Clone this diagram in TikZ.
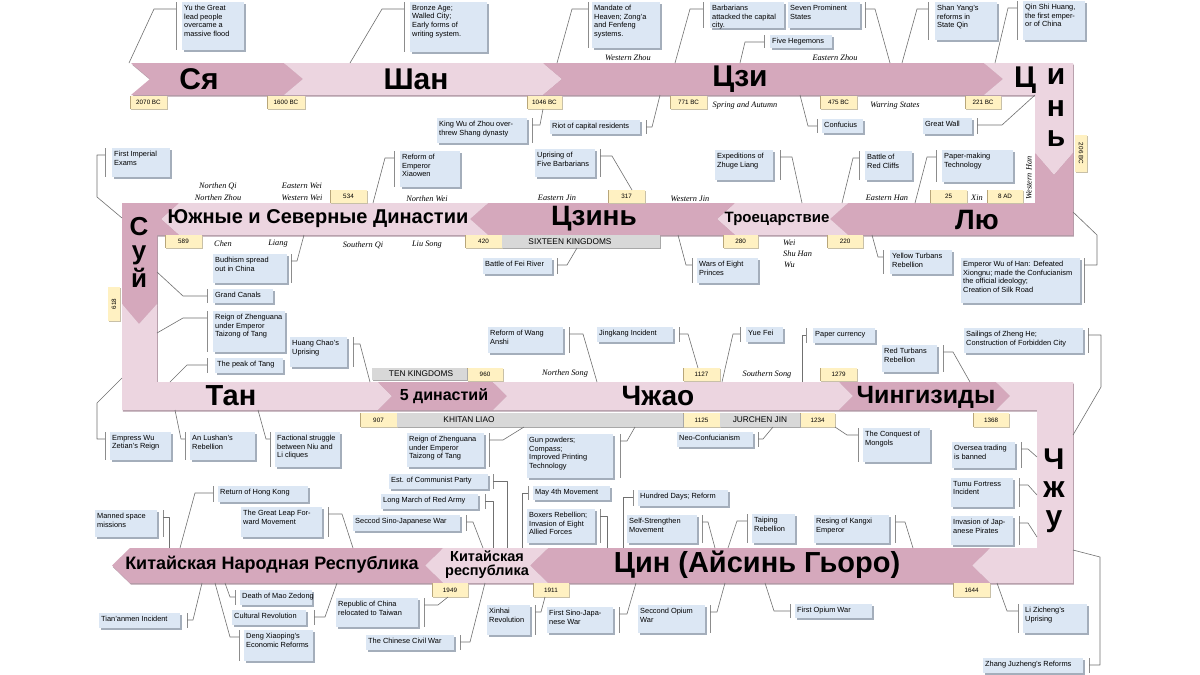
\documentclass[tikz,border=0pt]{standalone}
\usepackage{fontspec}
\setmainfont{Liberation Sans}
\newfontfamily\erafont{Liberation Serif}
\definecolor{banddark}{HTML}{D5A8BC}
\definecolor{bandlight}{HTML}{ECD5E0}
\definecolor{bandshade}{HTML}{B29AA6}
\definecolor{evfill}{HTML}{DCE7F4}
\definecolor{evshade}{HTML}{A4AEBB}
\definecolor{tagfill}{HTML}{FFF1C2}
\definecolor{tagshade}{HTML}{C8C0A8}
\definecolor{tagedge}{HTML}{B8A67A}
\definecolor{barfill}{HTML}{D8D8D8}
\definecolor{barshade}{HTML}{A8A8A8}
\definecolor{wirec}{HTML}{707070}
\definecolor{brkc}{HTML}{8C8C8C}
\newcommand{\evfont}{\fontsize{7.4}{8.7}\selectfont}
\newcommand{\tagfont}{\fontsize{6.3}{7}\selectfont}
\newcommand{\erasize}{\erafont\itshape\fontsize{8.3}{9.6}\selectfont}
\tikzset{
  every picture/.style = {line join=round},
  wire/.style    = {draw=wirec, line width=0.6pt},
  brk/.style     = {draw=brkc, line width=0.9pt},
  evbox/.style   = {fill=evfill, anchor=north west, inner sep=0pt, outer sep=0pt},
  evtext/.style  = {anchor=north west, align=left, inner sep=0pt, font=\evfont},
  tagbox/.style  = {fill=tagfill, anchor=north west, inner sep=0pt, outer sep=0pt},
  barbox/.style  = {fill=barfill, anchor=north west, inner sep=0pt, outer sep=0pt},
  era/.style     = {font=\erasize, inner sep=0pt},
  bigname/.style = {font=\bfseries\fontsize{30}{30}\selectfont, inner sep=0pt},
}
% one chevron piece of the band: fill, tail x, tip x, top y, bottom y, depth (sign = direction)
\newcommand{\piece}[6]{%
  \fill[#1] ({#2-(#6)},#4) -- ({#3-(#6)},#4) -- (#3,{(#4+#5)/2}) -- ({#3-(#6)},#5)
    -- ({#2-(#6)},#5) -- (#2,{(#4+#5)/2}) -- cycle;}
% event box with its bracket: name, x1, y1, x2, y2, bracket x, text
\newcommand{\ev}[7]{%
  \fill[evshade] (#2+1.5,#3+1.5) rectangle (#4+1.5,#5+1.5);
  \node[evbox, minimum width={(#4-#2)*1pt}, minimum height={(#5-#3)*1pt}] (#1) at (#2,#3) {};
  \node[evtext] at ([shift={(2,3)}]#1.north west) {#7};
  \draw[brk] (#6,#3) -- (#6,#5);
  \coordinate (#1-b) at (#6,#3+7);}
% date tag: name, x1, y1, x2, y2, text
\newcommand{\yr}[6]{%
  \fill[tagshade] (#2+1,#3+1) rectangle (#4+1,#5+1);
  \node[tagbox, minimum width={(#4-#2)*1pt}, minimum height={(#5-#3)*1pt}] (#1) at (#2,#3) {};
  \draw[tagedge, line width=1pt] (#2+0.5,#3) -- (#2+0.5,#5);
  \node[font=\tagfont, inner sep=0pt] at (#1.center) {#6};}
% grey span bar: name, x1, y1, x2, y2, text x, text
\newcommand{\kbar}[7]{%
  \fill[barshade] (#2+1,#3+1) rectangle (#4+1,#5+1);
  \node[barbox, minimum width={(#4-#2)*1pt}, minimum height={(#5-#3)*1pt}] (#1) at (#2,#3) {};
  \node[font=\fontsize{8.3}{9}\selectfont, inner sep=0pt] at (#6,{(#3+#5)/2}) {#7};}

\begin{document}
\begin{tikzpicture}[x=1pt, y=-1pt]
  \useasboundingbox[fill=white] (0,0) rectangle (1200,675);

  % ---------- the band, snaking down in four rows ----------------------------
  \foreach \dk/\lt/\sh in {bandshade/bandshade/1.5, banddark/bandlight/0} {
    \begin{scope}[shift={(\sh*0.6,\sh)}]
      % row 1, to the right
      \piece{\dk}{150}{303}{63}{95}{19}
      \piece{\lt}{303}{562}{63}{95}{19}
      \piece{\dk}{562}{1003}{63}{95}{19}
      \fill[\lt] (984,63) -- (1073,63) -- (1073,153) -- (1054,175) -- (1035,153)
        -- (1035,95) -- (984,95) -- (1003,79) -- cycle;
      % row 2, to the left
      \fill[\dk] (1035,153) -- (1054,175) -- (1073,153) -- (1073,235) -- (848,235)
        -- (830,219) -- (848,203) -- (1035,203) -- cycle;
      \piece{\lt}{830}{717}{203}{235}{-18}
      \piece{\dk}{717}{470}{203}{235}{-18}
      \piece{\lt}{470}{161}{203}{235}{-18}
      \fill[\dk] (122,203) -- (179,203) -- (161,219) -- (179,235) -- (157,235)
        -- (157,304) -- (139,324) -- (122,304) -- cycle;
      % row 3, to the right
      \fill[\lt] (122,304) -- (139,324) -- (157,304) -- (157,382) -- (378,382)
        -- (392,396) -- (378,410) -- (122,410) -- cycle;
      \piece{\dk}{392}{507}{382}{410}{14}
      \piece{\lt}{507}{853}{382}{410}{14}
      \piece{\dk}{853}{1010}{382}{410}{14}
      \fill[\lt] (996,382) -- (1073,382) -- (1073,583) -- (990,583) -- (972,565.5)
        -- (990,548) -- (1037,548) -- (1037,410) -- (996,410) -- (1010,396) -- cycle;
      % row 4, to the left
      \piece{\dk}{972}{530}{548}{583}{-18}
      \piece{\lt}{530}{425}{548}{583}{-18}
      \piece{\dk}{425}{112}{548}{583}{-18}
    \end{scope}
  }

  % ---------- dynasty names ---------------------------------------------------
  \node[bigname] (xia)   at (199,79) {Ся};
  \node[bigname] (shang) at (416,79) {Шан};
  \node[bigname] (zhou)  at (740,79) {Цзи};
  \node[bigname, anchor=base] (qin1) at (1025,87) {Ц};
  \node[bigname, anchor=base] (qin2) at (1056,84) {и};
  \node[bigname, anchor=base] (qin3) at (1056,116) {н};
  \node[bigname, anchor=base] (qin4) at (1056,146) {ь};
  \node[bigname, font=\bfseries\fontsize{28}{28}\selectfont] (han) at (977,220) {Лю};
  \node[bigname, font=\bfseries\fontsize{15}{15}\selectfont] (three) at (777,219) {Троецарствие};
  \node[bigname, font=\bfseries\fontsize{28}{28}\selectfont] (jin) at (594,219) {Цзинь};
  \node[bigname, font=\bfseries\fontsize{20}{20}\selectfont] (nsd) at (318,219) {Южные и Северные Династии};
  \node[bigname, font=\bfseries\fontsize{26}{25}\selectfont, align=center, anchor=north]
    (sui) at (139,217) {С\\[-1pt]у\\[3pt]й};
  \node[bigname, font=\bfseries\fontsize{29}{29}\selectfont] (tang) at (231,396) {Тан};
  \node[bigname, font=\bfseries\fontsize{16}{16}\selectfont] (five) at (444,396) {5 династий};
  \node[bigname, font=\bfseries\fontsize{28}{28}\selectfont] (song) at (658,396) {Чжао};
  \node[bigname, font=\bfseries\fontsize{25}{25}\selectfont] (yuan) at (926,397) {Чингизиды};
  \node[bigname, anchor=base] (ming1) at (1054,469) {Ч};
  \node[bigname, anchor=base] (ming2) at (1054,497) {ж};
  \node[bigname, anchor=base] (ming3) at (1054,526) {у};
  \node[bigname, font=\bfseries\fontsize{29}{29}\selectfont] (qing) at (757,565) {Цин (Айсинь Гьоро)};
  \node[bigname, font=\bfseries\fontsize{14.5}{14}\selectfont, align=center] (roc) at (487,565) {Китайская\\республика};
  \node[bigname, font=\bfseries\fontsize{18}{18}\selectfont] (prc) at (272,565) {Китайская Народная Республика};

  % ---------- dates and spans -------------------------------------------------
  \yr{t2070}{130}{96}{167}{109}{2070 BC}
  \yr{t1600}{267}{96}{305}{109}{1600 BC}
  \yr{t1046}{527}{96}{562}{109}{1046 BC}
  \yr{t771}{670}{96}{707}{109}{771 BC}
  \yr{t475}{820}{96}{857}{109}{475 BC}
  \yr{t221}{965}{96}{1001}{109}{221 BC}
  \yr{t534}{330}{190}{367}{203}{534}
  \yr{t317}{608}{190}{645}{203}{317}
  \yr{t25}{930}{190}{967}{203}{25}
  \yr{t8}{987}{190}{1023}{203}{8 AD}
  \yr{t589}{165}{235}{202}{248}{589}
  \yr{t420}{465}{235}{502}{248}{420}
  \yr{t280}{723}{235}{758}{248}{280}
  \yr{t220}{827}{235}{863}{248}{220}
  \yr{t960}{467}{368}{503}{381}{960}
  \yr{t1127}{683}{368}{720}{381}{1127}
  \yr{t1279}{820}{368}{857}{381}{1279}
  \yr{t907}{360}{413}{397}{427}{907}
  \yr{t1125}{683}{413}{720}{427}{1125}
  \yr{t1234}{800}{413}{835}{427}{1234}
  \yr{t1368}{973}{413}{1009}{427}{1368}
  \yr{t1949}{432}{583}{468}{597}{1949}
  \yr{t1911}{533}{583}{569}{597}{1911}
  \yr{t1644}{953}{583}{990}{597}{1644}
  \fill[tagshade] (1076,136) rectangle (1088,173);
  \node[tagbox, minimum width=12pt, minimum height=37pt] (t206) at (1075,135) {};
  \node[font=\tagfont, inner sep=0pt, rotate=-90] at (t206.center) {206 BC};
  \fill[tagshade] (109,288) rectangle (121,322);
  \node[tagbox, minimum width=12pt, minimum height=34pt] (t618) at (108,287) {};
  \node[font=\tagfont, inner sep=0pt, rotate=90] at (t618.center) {618};
  \kbar{sixteen}{502}{235}{660}{248}{570}{SIXTEEN KINGDOMS}
  \kbar{tenk}{372}{368}{467}{380}{421}{TEN KINGDOMS}
  \kbar{khitan}{397}{413}{683}{427}{469}{KHITAN LIAO}
  \kbar{jurchen}{720}{413}{800}{427}{760}{JURCHEN JIN}

  % ---------- period names in italics ----------------------------------------
  \node[era] (wzhou)  at (628,58)  {Western Zhou};
  \node[era] (ezhou)  at (835,58)  {Eastern Zhou};
  \node[era] (spring) at (745,106) {Spring and Autumn};
  \node[era] (warr)   at (895,106) {Warring States};
  \node[era] (nqi)    at (218,186) {Northen Qi};
  \node[era] (nzhou)  at (218,198) {Northen Zhou};
  \node[era] (ewei)   at (302,186) {Eastern Wei};
  \node[era] (wwei)   at (302,198) {Western Wei};
  \node[era] (nwei)   at (427,199) {Northen Wei};
  \node[era] (ejin)   at (557,198) {Eastern Jin};
  \node[era] (wjin)   at (690,199) {Western Jin};
  \node[era] (ehan)   at (887,198) {Eastern Han};
  \node[era] (xin)    at (977,198) {Xin};
  \node[era, rotate=90] (whan) at (1029,178) {Western Han};
  \node[era] (chen)   at (223,244) {Chen};
  \node[era] (liang)  at (278,244) {Liang};
  \node[era] (sqi)    at (363,245) {Southern Qi};
  \node[era] (lsong)  at (427,245) {Liu Song};
  \node[era, anchor=west] (wei)   at (783,243) {Wei};
  \node[era, anchor=west] (shu)   at (783,254) {Shu Han};
  \node[era, anchor=west] (wu)    at (784,265) {Wu};
  \node[era] (nsong)  at (565,373) {Northen Song};
  \node[era] (ssong)  at (767,374) {Southern Song};

  % ---------- events, row 1 ---------------------------------------------------
  \ev{yu}{182}{2}{244}{50}{176}{Yu the Great\\lead people\\overcame a\\massive flood}
  \draw[wire] (yu-b) -- ++(-22,0) -- (129,63);
  \ev{bronze}{410}{2}{487}{52}{404}{Bronze Age;\\Walled City;\\Early forms of\\writing system.}
  \draw[wire] (bronze-b) -- ++(-22,0) -- (350,63);
  \ev{mandate}{592}{2}{660}{48}{588}{Mandate of\\Heaven; Zong'a\\and Fenfeng\\systems.}
  \draw[wire] (mandate-b) -- ++(-16,0) -- (557,63);
  \ev{barb}{710}{2}{784}{28}{703}{Barbarians\\attacked the capital\\city.}
  \draw[wire] (barb-b) -- ++(-13,0) -- (675,63);
  \ev{seven}{788}{2}{860}{28}{865}{Seven Prominent\\States}
  \draw[wire] (seven-b) -- ++(10,0) -- (890,63);
  \ev{hegem}{770}{35}{832}{48}{764}{Five Hegemons}
  \draw[wire] (hegem-b) -- ++(-19,0) -- (740,63);
  \ev{shangyang}{935}{2}{997}{40}{928}{Shan Yang's\\reforms in\\State Qin}
  \draw[wire] (shangyang-b) -- ++(-11,0) -- (902,63);
  \ev{qinsh}{1023}{1}{1085}{40}{1017}{Qin Shi Huang,\\the first emper-\\or of China}
  \draw[wire] (qinsh-b) -- ++(-9,0) -- (995,63);
  \ev{wall}{923}{118}{972}{134}{977}{Great Wall}
  \draw[wire] (wall-b) -- ++(25,0) -- (1035,95);
  \ev{kingwu}{437}{118}{527}{143}{532}{King Wu of Zhou over-\\threw Shang dynasty}
  \draw[wire] (kingwu-b) -- ++(8,0) -- (543,109);
  \ev{riot}{550}{120}{640}{134}{646}{Riot of capital residents}
  \draw[wire] (riot-b) -- ++(6,0) -- (660,95);
  \ev{confu}{822}{119}{863}{133}{817}{Confucius}
  \draw[wire] (confu-b) -- ++(-9,0) -- (800,95);

  % ---------- events, row 2 ---------------------------------------------------
  \ev{fivebarb}{535}{149}{595}{177}{600}{Uprising of\\Five Barbarians}
  \draw[wire] (fivebarb-b) -- ++(12,0) -- (632,190);
  \ev{zhuge}{715}{150}{773}{180}{780}{Expeditions of\\Zhuge Liang}
  \draw[wire] (zhuge-b) -- ++(12,0) -- (802,203);
  \ev{redcliff}{865}{151}{912}{180}{859}{Battle of\\Red Cliffs}
  \draw[wire] (redcliff-b) -- ++(-6,0) -- (842,203);
  \ev{paper}{942}{150}{1013}{182}{936}{Paper-making\\Technology}
  \draw[wire] (paper-b) -- ++(-9,0) -- (915,203);
  \ev{xiaowen}{400}{151}{460}{187}{394}{Reform of\\Emperor\\Xiaowen}
  \draw[wire] (xiaowen-b) -- ++(-9,0) -- (373,203);
  \ev{exams}{112}{148}{170}{177}{105}{First Imperial\\Exams}
  \draw[wire] (exams-b) -- ++(-8,0) -- ++(0,42) -- (122,218);
  \ev{budhism}{213}{254}{287}{283}{291}{Budhism spread\\out in China}
  \draw[wire] (budhism-b) -- ++(6,0) -- (304,235);
  \ev{canals}{213}{289}{273}{303}{207}{Grand Canals}
  \draw[wire] (canals-b) -- ++(-24,0) -- (157,272);
  \ev{zhenguan}{213}{311}{285}{352}{207}{Reign of Zhenguana\\under Emperor\\Taizong of Tang}
  \draw[wire] (zhenguan-b) -- ++(-24,0) -- (157,333);
  \ev{peak}{215}{358}{283}{373}{207}{The peak of Tang}
  \draw[wire] (peak-b) -- ++(-20,0) -- (170,382);
  \ev{huang}{290}{337}{347}{367}{353}{Huang Chao's\\Uprising}
  \draw[wire] (huang-b) -- ++(7,0) -- (370,382);
  \ev{feiriver}{483}{258}{552}{274}{557}{Battle of Fei River}
  \draw[wire] (feiriver-b) -- ++(10,0) -- (577,248);
  \ev{eightpr}{697}{258}{758}{283}{692}{Wars of Eight\\Princes}
  \draw[wire] (eightpr-b) -- ++(-6,0) -- (678,235);
  \ev{yellow}{890}{250}{952}{274}{883}{Yellow Turbans\\Rebellion}
  \draw[wire] (yellow-b) -- ++(-5,0) -- (872,235);
  \ev{wuhan}{961}{258}{1080}{303}{1084}{Emperor Wu of Han: Defeated\\Xiongnu; made the Confucianism\\the official ideology;\\Creation of Silk Road}
  \draw[wire] (wuhan-b) -- ++(13,0) -- ++(0,-30) -- (1073,212);

  % ---------- events, row 3 ---------------------------------------------------
  \ev{wanganshi}{488}{327}{563}{353}{569}{Reform of Wang\\Anshi}
  \draw[wire] (wanganshi-b) -- ++(14,0) -- (597,382);
  \ev{jingkang}{597}{327}{673}{342}{679}{Jingkang Incident}
  \draw[wire] (jingkang-b) -- ++(9,0) -- (698,368);
  \ev{yuefei}{746}{327}{783}{342}{740}{Yue Fei}
  \draw[wire] (yuefei-b) -- ++(-7,0) -- (722,382);
  \ev{papercur}{813}{328}{875}{343}{806}{Paper currency}
  \draw[wire] (papercur-b) -- ++(-4,0) -- (802,382);
  \ev{redturb}{882}{345}{937}{372}{943}{Red Turbans\\Rebellion}
  \draw[wire] (redturb-b) -- ++(10,0) -- (970,382);
  \ev{zhenghe}{964}{328}{1083}{353}{1088}{Sailings of Zheng He;\\Construction of Forbidden City}
  \draw[wire] (zhenghe-b) -- ++(13,0) -- ++(0,52) -- (1073,435);
  \ev{wuzetian}{110}{432}{171}{460}{105}{Empress Wu\\Zetian's Reign}
  \draw[wire] (wuzetian-b) -- ++(-8,0) -- ++(0,-36) -- (122,378);
  \ev{anlushan}{190}{432}{255}{460}{185}{An Lushan's\\Rebellion}
  \draw[wire] (anlushan-b) -- ++(-4,0) -- (175,410);
  \ev{faction}{275}{432}{340}{467}{270}{Factional struggle\\between Niu and\\Li cliques}
  \draw[wire] (faction-b) -- ++(-4,0) -- (258,410);
  \ev{zhenguan2}{407}{433}{484}{467}{489}{Reign of Zhenguana\\under Emperor\\Taizong of Tang}
  \draw[wire] (zhenguan2-b) -- ++(14,0) -- (524,427);
  \ev{gunpowder}{527}{434}{613}{478}{620}{Gun powders;\\Compass;\\Improved Printing\\Technology}
  \draw[wire] (gunpowder-b) -- ++(7,0) -- (635,427);
  \ev{neoconf}{677}{432}{753}{447}{758}{Neo-Confucianism}
  \draw[wire] (neoconf-b) -- ++(5,0) -- (773,427);
  \ev{conquest}{863}{428}{930}{462}{858}{The Conquest of\\Mongols}
  \draw[wire] (conquest-b) -- ++(-11,0) -- (835,427);
  \ev{oversea}{952}{442}{1015}{468}{1021}{Oversea trading\\is banned}
  \draw[wire] (oversea-b) -- ++(7,0) -- (1037,457);
  \ev{tumu}{951}{478}{1013}{507}{1019}{Tumu Fortress\\Incident}
  \draw[wire] (tumu-b) -- ++(9,0) -- (1037,495);
  \ev{pirates}{951}{516}{1013}{545}{1019}{Invasion of Jap-\\anese Pirates}
  \draw[wire] (pirates-b) -- ++(9,0) -- (1037,537);

  % ---------- events, row 4 ---------------------------------------------------
  \ev{lizich}{1023}{604}{1087}{633}{1018}{Li Zicheng's\\Uprising}
  \draw[wire] (lizich-b) -- ++(-11,0) -- (997,583);
  \ev{zhangjz}{983}{658}{1083}{673}{1089}{Zhang Juzheng's Reforms}
  \draw[wire] (zhangjz-b) -- ++(11,0) -- ++(0,-108) -- (1073,550);
  \ev{kangxi}{814}{515}{889}{543}{895}{Resing of Kangxi\\Emperor}
  \draw[wire] (kangxi-b) -- ++(10,0) -- (913,548);
  \ev{taiping}{752}{514}{795}{543}{747}{Taiping\\Rebellion}
  \draw[wire] (taiping-b) -- ++(-10,0) -- (728,548);
  \ev{selfstr}{627}{515}{697}{543}{702}{Self-Strengthen\\Movement}
  \draw[wire] (selfstr-b) -- ++(6,0) -- (715,548);
  \ev{hundred}{638}{490}{728}{506}{633}{Hundred Days; Reform}
  \draw[wire] (hundred-b) -- ++(-10,0) -- (623,548);
  \ev{may4}{533}{486}{610}{500}{528}{May 4th Movement}
  \draw[wire] (may4-b) -- ++(-6,0) -- (522,548);
  \ev{boxers}{527}{509}{595}{543}{600}{Boxers Rebellion;\\Invasion of Eight\\Allied Forces}
  \draw[wire] (boxers-b) -- ++(7,0) -- (607,548);
  \ev{commun}{389}{474}{488}{489}{493}{Est. of Communist Party}
  \draw[wire] (commun-b) -- ++(14,0) -- (507,548);
  \ev{longmarch}{381}{494}{478}{509}{485}{Long March of Red Army}
  \draw[wire] (longmarch-b) -- ++(8,0) -- (493,548);
  \ev{sinojap2}{353}{515}{460}{531}{466}{Seccod Sino-Japanese War}
  \draw[wire] (sinojap2-b) -- ++(7,0) -- (483,548);
  \ev{hongkong}{218}{486}{308}{502}{213}{Return of Hong Kong}
  \draw[wire] (hongkong-b) -- ++(-18,0) -- (180,548);
  \ev{leap}{241}{507}{322}{537}{328}{The Great Leap For-\\ward Movement}
  \draw[wire] (leap-b) -- ++(14,0) -- (353,548);
  \ev{space}{95}{510}{157}{537}{163}{Manned space\\missions}
  \draw[wire] (space-b) -- ++(6,0) -- (169,548);
  \ev{tiananmen}{99}{613}{180}{628}{187}{Tian'anmen Incident}
  \draw[wire] (tiananmen-b) -- ++(6,0) -- (202,583);
  \ev{maodeath}{240}{590}{312}{605}{235}{Death of Mao Zedong}
  \draw[wire] (maodeath-b) -- ++(-5,0) -- (225,583);
  \ev{cultrev}{232}{610}{306}{625}{314}{Cultural Revolution}
  \draw[wire] (cultrev-b) -- ++(11,0) -- (337,583);
  \ev{deng}{244}{630}{313}{661}{239}{Deng Xiaoping's\\Economic Reforms}
  \draw[wire] (deng-b) -- ++(-9,0) -- (215,583);
  \ev{taiwan}{336}{598}{418}{627}{424}{Republic of China\\relocated to Taiwan}
  \draw[wire] (taiwan-b) -- ++(14,0) -- (448,597);
  \ev{civilwar}{366}{635}{454}{650}{460}{The Chinese Civil War}
  \draw[wire] (civilwar-b) -- ++(10,0) -- (485,583);
  \ev{xinhai}{487}{605}{530}{635}{535}{Xinhai\\Revolution}
  \draw[wire] (xinhai-b) -- ++(6,0) -- (545,597);
  \ev{sinojap1}{547}{607}{613}{633}{619}{First Sino-Japa-\\nese War}
  \draw[wire] (sinojap1-b) -- ++(8,0) -- (636,583);
  \ev{opium2}{638}{605}{705}{633}{710}{Seccond Opium\\War}
  \draw[wire] (opium2-b) -- ++(7,0) -- (725,583);
  \ev{opium1}{795}{604}{872}{618}{790}{First Opium War}
  \draw[wire] (opium1-b) -- ++(-16,0) -- (765,583);
\end{tikzpicture}
\end{document}
